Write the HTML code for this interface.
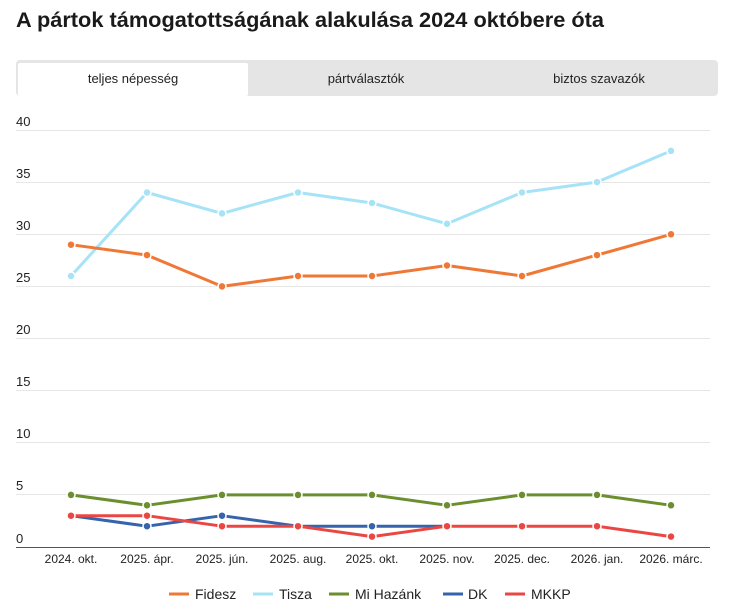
<!DOCTYPE html>
<html><head><meta charset="utf-8"><style>
body{margin:0;background:#fff;width:730px;height:608px;overflow:hidden;font-family:"Liberation Sans",sans-serif}
</style></head><body>
<svg width="730" height="608" xmlns="http://www.w3.org/2000/svg" font-family="Liberation Sans, sans-serif">
<text x="16" y="27" font-size="21" font-weight="bold" fill="#1a1a1a" textLength="588" lengthAdjust="spacingAndGlyphs">A pártok támogatottságának alakulása 2024 októbere óta</text>
<rect x="16" y="60" width="702" height="36" rx="4" fill="#e5e5e5"/>
<rect x="18" y="63" width="230" height="33" rx="2" fill="#fff"/>
<g font-size="13" fill="#222" text-anchor="middle">
<text x="133" y="83">teljes népesség</text>
<text x="366" y="83">pártválasztók</text>
<text x="599" y="83">biztos szavazók</text>
</g>
<g stroke="#e6e6e6" stroke-width="1">
<line x1="16" x2="710" y1="130.5" y2="130.5"/><line x1="16" x2="710" y1="182.5" y2="182.5"/>
<line x1="16" x2="710" y1="234.5" y2="234.5"/><line x1="16" x2="710" y1="286.5" y2="286.5"/>
<line x1="16" x2="710" y1="338.5" y2="338.5"/><line x1="16" x2="710" y1="390.5" y2="390.5"/>
<line x1="16" x2="710" y1="442.5" y2="442.5"/><line x1="16" x2="710" y1="494.5" y2="494.5"/>
</g>
<line x1="16" x2="710" y1="547.5" y2="547.5" stroke="#555" stroke-width="1"/>
<g font-size="13" fill="#222">
<text x="16" y="126">40</text><text x="16" y="178">35</text><text x="16" y="230">30</text>
<text x="16" y="282">25</text><text x="16" y="334">20</text><text x="16" y="386">15</text>
<text x="16" y="438">10</text><text x="16" y="490">5</text><text x="16" y="543">0</text>
</g>
<g font-size="12" fill="#222" text-anchor="middle">
<text x="71" y="563">2024. okt.</text><text x="147" y="563">2025. ápr.</text><text x="222" y="563">2025. jún.</text>
<text x="298" y="563">2025. aug.</text><text x="372" y="563">2025. okt.</text><text x="447" y="563">2025. nov.</text>
<text x="522" y="563">2025. dec.</text><text x="597" y="563">2026. jan.</text><text x="671" y="563">2026. márc.</text>
</g>
<g fill="none" stroke-width="3" stroke-linejoin="round">
<polyline stroke="#a6e3f7" points="71,276 147,192.5 222,213.4 298,192.5 372,203 447,223.8 522,192.5 597,182.1 671,150.9"/>
<polyline stroke="#ef7836" points="71,244.7 147,255.1 222,286.4 298,276 372,276 447,265.5 522,276 597,255.1 671,234.3"/>
<polyline stroke="#6b8e2e" points="71,494.9 147,505.3 222,494.9 298,494.9 372,494.9 447,505.3 522,494.9 597,494.9 671,505.3"/>
<polyline stroke="#3563ad" points="71,515.7 147,526.2 222,515.7 298,526.2 372,526.2 447,526.2"/>
<polyline stroke="#ea4743" points="71,515.7 147,515.7 222,526.2 298,526.2 372,536.6 447,526.2 522,526.2 597,526.2 671,536.6"/>
</g>
<g stroke="#fff" stroke-width="1.5">
<g fill="#a6e3f7"><circle cx="71" cy="276" r="4"/><circle cx="147" cy="192.5" r="4"/><circle cx="222" cy="213.4" r="4"/><circle cx="298" cy="192.5" r="4"/><circle cx="372" cy="203" r="4"/><circle cx="447" cy="223.8" r="4"/><circle cx="522" cy="192.5" r="4"/><circle cx="597" cy="182.1" r="4"/><circle cx="671" cy="150.9" r="4"/></g>
<g fill="#ef7836"><circle cx="71" cy="244.7" r="4"/><circle cx="147" cy="255.1" r="4"/><circle cx="222" cy="286.4" r="4"/><circle cx="298" cy="276" r="4"/><circle cx="372" cy="276" r="4"/><circle cx="447" cy="265.5" r="4"/><circle cx="522" cy="276" r="4"/><circle cx="597" cy="255.1" r="4"/><circle cx="671" cy="234.3" r="4"/></g>
<g fill="#6b8e2e"><circle cx="71" cy="494.9" r="4"/><circle cx="147" cy="505.3" r="4"/><circle cx="222" cy="494.9" r="4"/><circle cx="298" cy="494.9" r="4"/><circle cx="372" cy="494.9" r="4"/><circle cx="447" cy="505.3" r="4"/><circle cx="522" cy="494.9" r="4"/><circle cx="597" cy="494.9" r="4"/><circle cx="671" cy="505.3" r="4"/></g>
<g fill="#3563ad"><circle cx="147" cy="526.2" r="4"/><circle cx="222" cy="515.7" r="4"/><circle cx="372" cy="526.2" r="4"/></g>
<g fill="#ea4743"><circle cx="71" cy="515.7" r="4"/><circle cx="147" cy="515.7" r="4"/><circle cx="222" cy="526.2" r="4"/><circle cx="298" cy="526.2" r="4"/><circle cx="372" cy="536.6" r="4"/><circle cx="447" cy="526.2" r="4"/><circle cx="522" cy="526.2" r="4"/><circle cx="597" cy="526.2" r="4"/><circle cx="671" cy="536.6" r="4"/></g>
</g>
<g stroke-width="3">
<line x1="169" x2="189" y1="594" y2="594" stroke="#ef7836"/>
<line x1="253" x2="273" y1="594" y2="594" stroke="#a6e3f7"/>
<line x1="329" x2="349" y1="594" y2="594" stroke="#6b8e2e"/>
<line x1="443" x2="463" y1="594" y2="594" stroke="#3563ad"/>
<line x1="505" x2="525" y1="594" y2="594" stroke="#ea4743"/>
</g>
<g font-size="14" fill="#222">
<text x="195" y="599">Fidesz</text><text x="279" y="599">Tisza</text><text x="355" y="599">Mi Hazánk</text>
<text x="468" y="599">DK</text><text x="531" y="599">MKKP</text>
</g>
</svg>
</body></html>
